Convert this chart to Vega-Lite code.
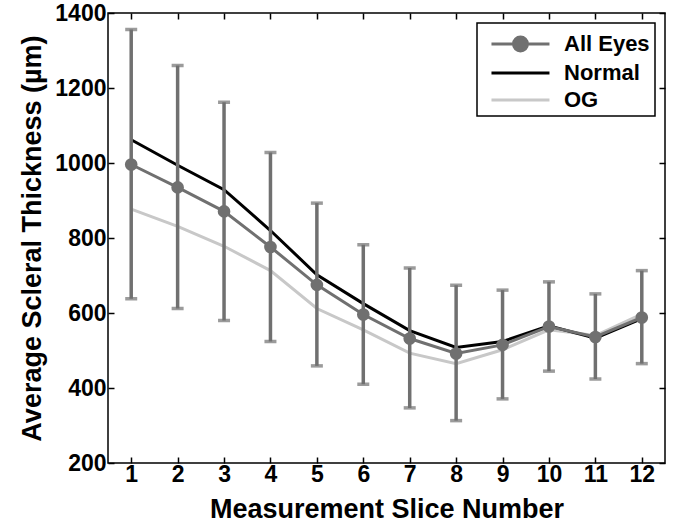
{
  "$schema": "https://vega.github.io/schema/vega-lite/v6.json",
  "width": 557,
  "height": 450,
  "autosize": {"type": "none"},
  "padding": {"left": 108, "top": 13, "right": 10, "bottom": 65},
  "config": {
    "font": "Liberation Sans",
    "view": {"stroke": "#000000", "strokeWidth": 1.5},
    "axis": {
      "domain": false,
      "grid": false,
      "tickColor": "#000000",
      "tickWidth": 1.5,
      "tickSize": -6,
      "labelFont": "Liberation Sans",
      "labelFontSize": 23,
      "labelFontWeight": "bold",
      "labelColor": "#000000",
      "titleFont": "Liberation Sans",
      "titleFontSize": 27,
      "titleFontWeight": "bold",
      "titleColor": "#000000"
    },
    "legend": {
      "orient": "top-right",
      "offset": 10,
      "padding": 5,
      "strokeColor": "#000000",
      "strokeWidth": 1.5,
      "fillColor": "#ffffff",
      "labelFont": "Liberation Sans",
      "labelFontSize": 22,
      "labelFontWeight": "bold",
      "labelColor": "#000000",
      "symbolSize": 841,
      "symbolStrokeWidth": 3,
      "labelOffset": 50,
      "rowPadding": 0
    }
  },
  "data": {
    "values": [
      {"slice": 1, "All Eyes": 996, "Normal": 1062, "OG": 877, "lo": 638, "hi": 1356},
      {"slice": 2, "All Eyes": 935, "Normal": 994, "OG": 831, "lo": 612, "hi": 1260},
      {"slice": 3, "All Eyes": 871, "Normal": 929, "OG": 778, "lo": 580, "hi": 1162},
      {"slice": 4, "All Eyes": 776, "Normal": 820, "OG": 713, "lo": 524, "hi": 1028},
      {"slice": 5, "All Eyes": 675, "Normal": 702, "OG": 612, "lo": 459, "hi": 893},
      {"slice": 6, "All Eyes": 596, "Normal": 625, "OG": 555, "lo": 410, "hi": 782},
      {"slice": 7, "All Eyes": 532, "Normal": 553, "OG": 493, "lo": 347, "hi": 720},
      {"slice": 8, "All Eyes": 492, "Normal": 508, "OG": 465, "lo": 313, "hi": 674},
      {"slice": 9, "All Eyes": 515, "Normal": 524, "OG": 502, "lo": 371, "hi": 661},
      {"slice": 10, "All Eyes": 564, "Normal": 566, "OG": 555, "lo": 445, "hi": 683},
      {"slice": 11, "All Eyes": 536, "Normal": 533, "OG": 540, "lo": 424, "hi": 651},
      {"slice": 12, "All Eyes": 588, "Normal": 585, "OG": 597, "lo": 465, "hi": 713}
    ]
  },
  "resolve": {"axis": {"x": "independent", "y": "independent"}},
  "layer": [
    {
      "transform": [{"fold": ["OG", "Normal", "All Eyes"], "as": ["series", "value"]}],
      "mark": {"type": "line", "strokeWidth": 3},
      "encoding": {
        "x": {
          "field": "slice", "type": "quantitative",
          "scale": {"domain": [0.5, 12.5], "nice": false, "zero": false},
          "axis": {"values": [1, 2, 3, 4, 5, 6, 7, 8, 9, 10, 11, 12], "format": "d", "title": "Measurement Slice Number", "labelPadding": 6, "titlePadding": 10}
        },
        "y": {
          "field": "value", "type": "quantitative",
          "scale": {"domain": [200, 1400], "nice": false, "zero": false},
          "axis": {"values": [200, 400, 600, 800, 1000, 1200, 1400], "format": "d", "title": "Average Scleral Thickness (µm)", "labelPadding": 8, "titlePadding": 8}
        },
        "stroke": {
          "field": "series", "type": "nominal",
          "scale": {"domain": ["All Eyes", "Normal", "OG"], "range": ["#707070", "#000000", "#c8c8c8"]},
          "legend": {
            "title": null,
            "encode": {
              "symbols": {
                "update": {
                  "shape": [
                    {"test": "datum.value === 'All Eyes'", "value": "M-0.45,0H3.55M1.07,0A0.48,0.48,0,1,1,2.03,0A0.48,0.48,0,1,1,1.07,0"},
                    {"value": "M-0.45,0H3.55"}
                  ],
                  "fill": [
                    {"test": "datum.value === 'All Eyes'", "value": "#707070"},
                    {"value": "transparent"}
                  ]
                }
              }
            }
          }
        }
      }
    },
    {
      "mark": {"type": "rule", "strokeWidth": 3.5, "color": "#707070"},
      "encoding": {
        "x": {"field": "slice", "type": "quantitative", "axis": null},
        "y": {"field": "lo", "type": "quantitative", "axis": null},
        "y2": {"field": "hi"}
      }
    },
    {
      "mark": {"type": "tick", "orient": "horizontal", "size": 12, "thickness": 3.5, "color": "#707070"},
      "encoding": {
        "x": {"field": "slice", "type": "quantitative", "axis": null},
        "y": {"field": "lo", "type": "quantitative", "axis": null}
      }
    },
    {
      "mark": {"type": "tick", "orient": "horizontal", "size": 12, "thickness": 3.5, "color": "#707070"},
      "encoding": {
        "x": {"field": "slice", "type": "quantitative", "axis": null},
        "y": {"field": "hi", "type": "quantitative", "axis": null}
      }
    },
    {
      "mark": {"type": "point", "shape": "circle", "filled": true, "size": 160, "color": "#707070", "opacity": 1},
      "encoding": {
        "x": {"field": "slice", "type": "quantitative", "axis": {"orient": "top", "values": [1, 2, 3, 4, 5, 6, 7, 8, 9, 10, 11, 12], "labels": false, "title": null}},
        "y": {"field": "All Eyes", "type": "quantitative", "axis": {"orient": "right", "values": [200, 400, 600, 800, 1000, 1200, 1400], "labels": false, "title": null}}
      }
    }
  ]
}
